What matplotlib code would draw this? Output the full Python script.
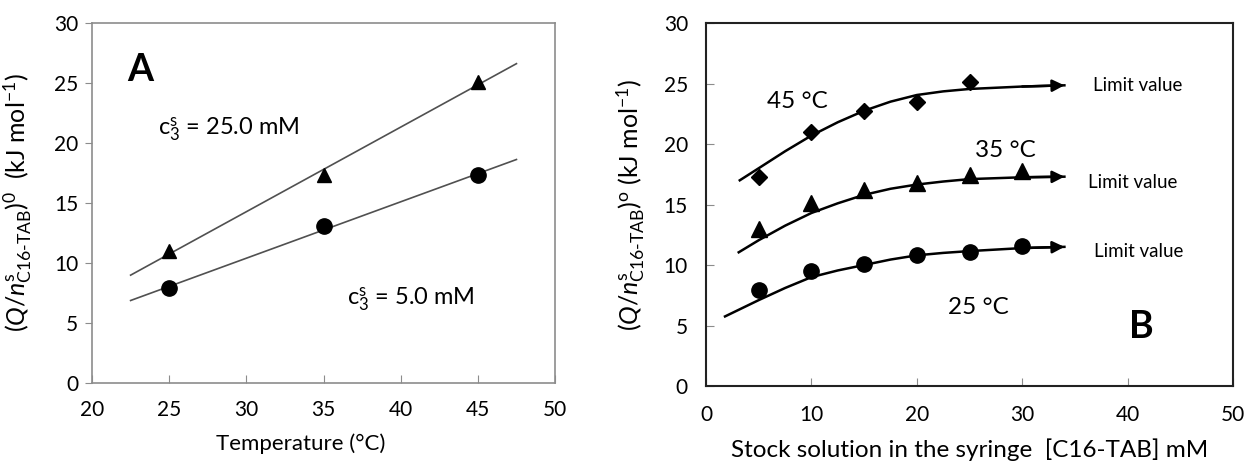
import numpy as np
import matplotlib
matplotlib.use("Agg")
import matplotlib.pyplot as plt
from matplotlib import font_manager as fm

plt.rcParams['font.family'] = ['Lato', 'DejaVu Sans']
plt.rcParams['mathtext.fontset'] = 'custom'
plt.rcParams['mathtext.rm'] = 'Lato'
plt.rcParams['mathtext.bf'] = 'Lato:weight=bold'
# italic for Q and n: use a family that really has an italic face
it_family = 'DejaVu Sans'
for fam in ['Lato', 'Open Sans', 'Noto Sans', 'Liberation Sans']:
    try:
        path = fm.findfont(fm.FontProperties(family=fam, style='italic'), fallback_to_default=False)
    except Exception:
        continue
    if 'italic' in path.lower() or 'oblique' in path.lower():
        it_family = fam
        break
plt.rcParams['mathtext.it'] = it_family + ':style=italic'

# panel A: temperature dependence
temp = [25, 35, 45]
a_high = [11.0, 17.3, 25.1]   # c3 = 25.0 mM (triangles)
a_low = [7.9, 13.05, 17.3]    # c3 = 5.0 mM (circles)

# panel B: stock concentration dependence
conc_45 = [5, 10, 15, 20, 25]
val_45 = [17.3, 21.0, 22.7, 23.45, 25.15]
conc_35 = [5, 10, 15, 20, 25, 30]
val_35 = [12.95, 15.1, 16.2, 16.8, 17.4, 17.8]
conc_25 = [5, 10, 15, 20, 25, 30]
val_25 = [7.9, 9.5, 10.1, 10.8, 11.05, 11.6]

# fitted curves
fit45_x = [3.2, 5, 7.5, 10, 12.5, 15, 17.5, 20, 22.5, 25, 30, 34]
fit45_y = [17.0, 18.0, 19.4, 20.7, 21.8, 22.75, 23.5, 24.05, 24.35, 24.55, 24.75, 24.85]
fit35_x = [3.1, 5, 7.5, 10, 12.5, 15, 17.5, 20, 22.5, 25, 30, 34]
fit35_y = [11.05, 12.05, 13.25, 14.3, 15.1, 15.8, 16.3, 16.65, 16.9, 17.1, 17.25, 17.3]
fit25_x = [1.8, 5, 7.5, 10, 12.5, 15, 17.5, 20, 22.5, 25, 30, 34]
fit25_y = [5.75, 7.1, 8.1, 9.0, 9.55, 10.0, 10.45, 10.8, 11.0, 11.15, 11.4, 11.5]

fig = plt.figure(figsize=(12.47, 4.63), dpi=100)
axA = fig.add_axes([0.0738, 0.1728, 0.3713, 0.7775])
axB = fig.add_axes([0.5662, 0.1663, 0.4226, 0.7840])

# ---- panel A
for x in [a_high, a_low]:
    k, b = np.polyfit(temp, x, 1)
    xx = np.array([22.5, 47.5])
    axA.plot(xx, k * xx + b, color='#505050', lw=1.2)
axA.plot(temp, a_high, '^', color='black', ms=10)
axA.plot(temp, a_low, 'o', color='black', ms=11)

axA.set_xlim(20, 50)
axA.set_ylim(0, 30)
axA.set_xticks(range(20, 51, 5))
axA.set_yticks(range(0, 31, 5))
for s in axA.spines.values():
    s.set_color('#8c8c8c')
    s.set_linewidth(1.2)
axA.tick_params(axis='x', direction='in', length=6, color='#8c8c8c', pad=12, labelsize=15)
axA.tick_params(axis='y', direction='out', length=5, color='#8c8c8c', pad=5, labelsize=15)
axA.set_xlabel('Temperature (°C)', fontsize=16, labelpad=10)
axA.xaxis.label.set_x(0.45)
axA.set_ylabel(r'$(\mathit{Q/n}^{\mathrm{s}}_{\mathrm{C16\text{-}TAB}})^{0}$  (kJ mol$^{-1}$)', fontsize=18)
axA.yaxis.set_label_coords(-0.125, 0.5)
axA.text(22.3, 26.1, 'A', fontsize=27, fontweight='bold', va='center')
axA.text(24.3, 21.1, r'c$^{\mathrm{s}}_{3}$ = 25.0 mM', fontsize=17, va='center')
axA.text(36.5, 6.9, r'c$^{\mathrm{s}}_{3}$ = 5.0 mM', fontsize=17, va='center')

# ---- panel B
for fx, fy in [(fit45_x, fit45_y), (fit35_x, fit35_y), (fit25_x, fit25_y)]:
    axB.plot(fx, fy, color='black', lw=1.8)
    axB.annotate('', xy=(fx[-1], fy[-1]), xytext=(fx[-2], fy[-2]),
                 arrowprops=dict(arrowstyle='-|>', color='black', lw=1.8,
                                 mutation_scale=18, shrinkA=0, shrinkB=0))
axB.plot(conc_45, val_45, 'D', color='black', ms=8)
axB.plot(conc_35, val_35, '^', color='black', ms=11)
axB.plot(conc_25, val_25, 'o', color='black', ms=11)

axB.set_xlim(0, 50)
axB.set_ylim(0, 30)
axB.set_xticks(range(0, 51, 10))
axB.set_yticks(range(0, 31, 5))
for s in axB.spines.values():
    s.set_color('#222222')
    s.set_linewidth(1.5)
axB.tick_params(axis='x', direction='in', length=6, color='#8c8c8c', pad=14, labelsize=15)
axB.tick_params(axis='y', direction='in', length=6, color='#8c8c8c', pad=13, labelsize=15)
axB.set_xlabel('Stock solution in the syringe  [C16-TAB] mM', fontsize=17.5, labelpad=9)
axB.set_ylabel(r'$(\mathit{Q/n}^{\mathrm{s}}_{\mathrm{C16\text{-}TAB}})^{\mathrm{o}}$ (kJ mol$^{-1}$)', fontsize=18)
axB.yaxis.set_label_coords(-0.112, 0.5)

axB.text(5.8, 23.5, '45 °C', fontsize=17.5, va='center')
axB.text(25.5, 19.5, '35 °C', fontsize=17.5, va='center')
axB.text(23.0, 6.5, '25 °C', fontsize=17.5, va='center')
axB.text(36.7, 24.8, 'Limit value', fontsize=13.5, va='center')
axB.text(36.2, 16.8, 'Limit value', fontsize=13.5, va='center')
axB.text(36.8, 11.15, 'Limit value', fontsize=13.5, va='center')
axB.text(41.3, 4.9, 'B', fontsize=27, fontweight='bold', ha='center', va='center')

fig.savefig('out.png', dpi=100)
